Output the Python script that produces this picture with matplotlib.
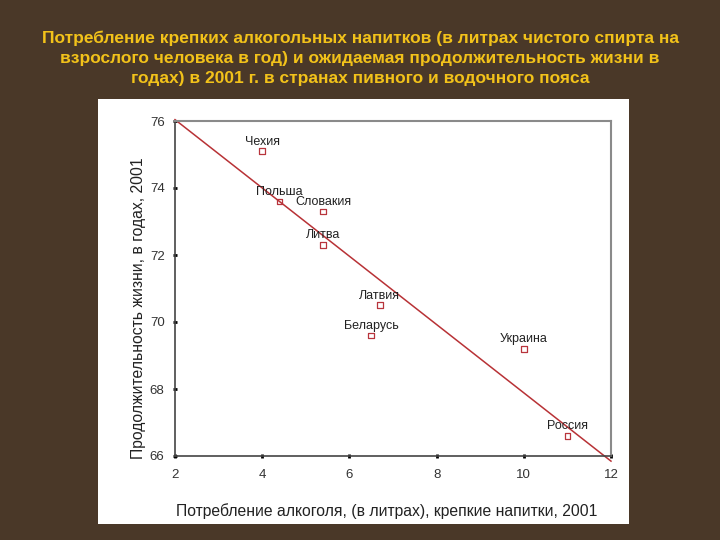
import numpy as np
import matplotlib
matplotlib.use("Agg")
import matplotlib.pyplot as plt
from matplotlib.patches import Rectangle

countries = ["Чехия", "Польша", "Словакия", "Литва", "Латвия", "Беларусь", "Украина", "Россия"]
alcohol = [4.0, 4.4, 5.4, 5.4, 6.7, 6.5, 10.0, 11.0]
life = [75.1, 73.6, 73.3, 72.3, 70.5, 69.6, 69.2, 66.6]
xticks = [2, 4, 6, 8, 10, 12]
yticks = [66, 68, 70, 72, 74, 76]

title = ("Потребление крепких алкогольных напитков (в литрах чистого спирта на\n"
         "взрослого человека в год) и ожидаемая продолжительность жизни в\n"
         "годах) в 2001 г. в странах пивного и водочного пояса")
xlabel = "Потребление алкоголя, (в литрах), крепкие напитки, 2001"
ylabel = "Продолжительность жизни, в годах, 2001"

fig = plt.figure(figsize=(7.2, 5.4), dpi=100)
fig.patch.set_facecolor("#4a3828")

# white panel
fig.patches.append(Rectangle((98 / 720, 1 - 524 / 540), (629 - 98) / 720, (524 - 99) / 540,
                             transform=fig.transFigure, facecolor="white", edgecolor="none", zorder=-5))

fig.text(0.5, 1 - 58 / 540, title, ha="center", va="center", color="#f2c21a",
         fontsize=12.5, fontweight="bold", linespacing=1.4, family="Liberation Sans")

ax = fig.add_axes([175 / 720, 1 - 456 / 540, 436 / 720, 335 / 540], zorder=2)
ax.set_facecolor("white")
ax.set_xlim(2, 12)
ax.set_ylim(66, 76)

coef = np.polyfit(alcohol, life, 1)
xs = np.array([2, 12])
ax.plot(xs, np.polyval(coef, xs), color="#b83236", lw=1.1, zorder=2, clip_on=False)
ax.scatter(alcohol, life, marker="s", s=16, facecolors="none", edgecolors="#b8343c",
           linewidths=0.9, zorder=3)
for c, x, y in zip(countries, alcohol, life):
    ax.annotate(c, (x, y), xytext=(0, 2.5), textcoords="offset points", ha="center",
                va="bottom", fontsize=9, color="#222222", family="Liberation Sans")

ax.set_xticks(xticks)
ax.set_yticks(yticks)
ax.tick_params(direction="inout", length=3, width=2, color="black", labelsize=9.5,
               labelcolor="#333333", pad=6)
ax.tick_params(axis="x", pad=8)
for lab in ax.get_xticklabels() + ax.get_yticklabels():
    lab.set_family("Liberation Sans")
for s in ["top", "right"]:
    ax.spines[s].set_color("#8a8a8a")
    ax.spines[s].set_linewidth(1.5)
for s in ["left", "bottom"]:
    ax.spines[s].set_color("#444444")
    ax.spines[s].set_linewidth(1.2)

fig.text(387 / 720, 1 - 511 / 540, xlabel, ha="center", va="center", fontsize=11.3,
         color="#222222", family="Liberation Sans")
fig.text(138 / 720, 1 - 308 / 540, ylabel, ha="center", va="center", rotation=90,
         fontsize=11.3, color="#222222", family="Liberation Sans")

fig.savefig("out.png", dpi=100, facecolor=fig.get_facecolor())
